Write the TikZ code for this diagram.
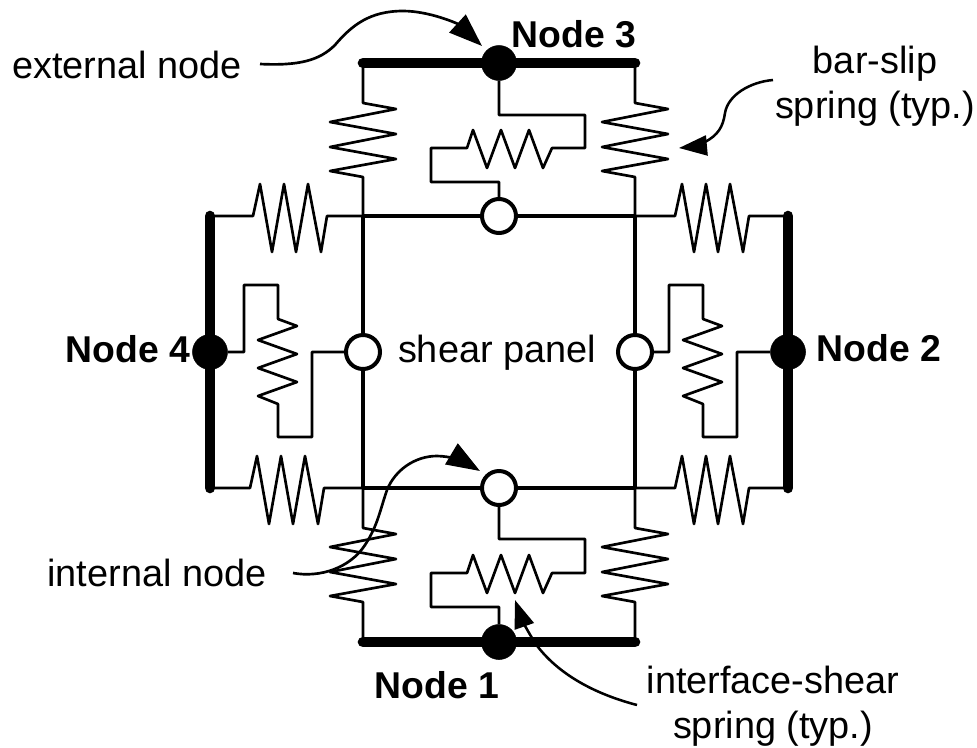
\documentclass[tikz,border=0pt]{standalone}
\usepackage{fontspec}
\setmainfont{Liberation Sans}
\usetikzlibrary{arrows.meta}
\tikzset{%
	ext/.style={draw, circle, fill=black, minimum size=35pt*0.75, inner sep=0pt},
	int/.style={draw, circle, fill=white, line width=3pt, minimum size=34pt*0.75, inner sep=0pt},
	bar/.style={line width=8pt, line cap=round},
	panel/.style={line width=2.6pt},
	wire/.style={line width=2pt, line join=round},
	lead/.style={line width=2pt, -{Triangle[length=25pt, width=18pt]}},
	leadsm/.style={line width=1.9pt, -{Triangle[length=21pt, width=15pt]}},
	lbl/.style={font=\fontsize{28.4}{34}\selectfont, align=center, inner sep=0pt},
	nlbl/.style={font=\fontsize{28}{34}\selectfont\bfseries, inner sep=0pt}}
% spring zigzags, written as relative steps
\newcommand{\vzig}{-- ++(33,6) -- ++(-66,13) -- ++(66,12) -- ++(-66,13) -- ++(66,12) -- ++(-66,12) -- ++(33,6)}
\newcommand{\hzig}{-- ++(7,-32) -- ++(12,68) -- ++(12,-68) -- ++(12,68) -- ++(12,-68) -- ++(13,68) -- ++(6,-36)}
\newcommand{\szig}{-- ++(-9,20) -- ++(-14,-38) -- ++(-14,38) -- ++(-14,-38) -- ++(-14,38) -- ++(-14,-38) -- ++(-6,18)}
\newcommand{\mzig}{-- ++(19,7) -- ++(-39,14) -- ++(39,14) -- ++(-39,14) -- ++(39,14) -- ++(-39,14) -- ++(20,8)}
\begin{document}
\begin{tikzpicture}[x=0.75pt, y=-0.75pt]
	\useasboundingbox (0,0) rectangle (977,747);

	\node[ext] (N3) at (499,63) {};
	\node[ext] (N1) at (499,642) {};
	\node[ext] (N4) at (210,352) {};
	\node[ext] (N2) at (788,352) {};
	\node[int] (I3) at (499,216) {};
	\node[int] (I1) at (499,488) {};
	\node[int] (I4) at (363,352) {};
	\node[int] (I2) at (635,352) {};

	\coordinate (B3l) at (363,63);
	\coordinate (B3r) at (635,63);
	\coordinate (B1l) at (363,642);
	\coordinate (B1r) at (635,642);
	\coordinate (B4t) at (210,216);
	\coordinate (B4b) at (210,488);
	\coordinate (B2t) at (788,216);
	\coordinate (B2b) at (788,488);
	\coordinate (P3l) at (363,216);
	\coordinate (P3r) at (635,216);
	\coordinate (P1l) at (363,488);
	\coordinate (P1r) at (635,488);

	% rigid bars
	\draw[bar] (B3l) -- (N3) -- (B3r);
	\draw[bar] (B1l) -- (N1) -- (B1r);
	\draw[bar] (B4t) -- (N4) -- (B4b);
	\draw[bar] (B2t) -- (N2) -- (B2b);

	% shear panel
	\draw[panel] (P3l) -- (I3);
	\draw[panel] (I3) -- (P3r);
	\draw[panel] (P1l) -- (I1);
	\draw[panel] (I1) -- (P1r);
	\draw[panel] (P3l) -- (I4);
	\draw[panel] (I4) -- (P1l);
	\draw[panel] (P3r) -- (I2);
	\draw[panel] (I2) -- (P1r);

	% bar-slip springs
	\draw[wire] (B3l) -- ++(0,40) \vzig -- (P3l);
	\draw[wire] (B3r) -- ++(0,40) \vzig -- (P3r);
	\draw[wire] (P1l) -- ++(0,40) \vzig -- (B1l);
	\draw[wire] (P1r) -- ++(0,40) \vzig -- (B1r);
	\draw[wire] (B4t) -- ++(43,0) \hzig -- (P3l);
	\draw[wire] (B4b) -- ++(40,0) \hzig -- (P1l);
	\draw[wire] (P3r) -- ++(40,0) \hzig -- (B2t);
	\draw[wire] (P1r) -- ++(40,0) \hzig -- (B2b);

	% interface-shear springs
	\draw[wire] (N3) -- (499,115) -- (585,115) -- (585,148) -- (552,148) \szig -- (431,148) -- (431,182) -- (499,182) -- (I3);
	\draw[wire] (I1) -- (499,539) -- (585,539) -- (585,573) -- (552,573) \szig -- (431,573) -- (431,607) -- (499,607) -- (N1);
	\draw[wire] (N4) -- (244,352) -- (244,285) -- (278,285) -- (278,319) \mzig -- (278,437) -- (312,437) -- (312,352) -- (I4);
	\draw[wire] (I2) -- (669,352) -- (669,285) -- (703,285) -- (703,319) \mzig -- (703,437) -- (737,437) -- (737,352) -- (N2);

	% labels
	\node[lbl] (Lext) at (127,65) {external node};
	\node[lbl] (Lint) at (157,573) {internal node};
	\node[lbl] (Lsh) at (497,353) {shear panel};
	\node[lbl] (Lbs) at (875,86) {bar-slip\\spring (typ.)};
	\node[lbl] (Lis) at (773,706) {interface-shear\\spring (typ.)};
	\node[nlbl] (T3) at (574,34) {Node 3};
	\node[nlbl] (T4) at (128,349) {Node 4};
	\node[nlbl] (T2) at (879,348) {Node 2};
	\node[nlbl] (T1) at (437,685) {Node 1};

	% leaders
	\coordinate (Sext) at (260,64);
	\coordinate (Sint) at (293,573);
	\coordinate (Sbs) at (773,80);
	\coordinate (Sis) at (637,705);
	\coordinate (Text) at (482,46);
	\coordinate (Tint) at (480,471);
	\coordinate (Tbs) at (679,148);
	\coordinate (Tis) at (515,600);
	\draw[lead] (Sext) .. controls (300,66) and (320,60) .. (335,45) .. controls (352,25) and (370,11) .. (403,11) .. controls (430,11) and (458,24) .. (Text);
	\draw[lead] (Sint) .. controls (320,578) and (350,568) .. (365,545) .. controls (378,525) and (380,510) .. (387,490) .. controls (395,470) and (415,456) .. (437,456) .. controls (450,456) and (465,462) .. (Tint);
	\draw[leadsm] (Sbs) .. controls (750,82) and (728,95) .. (725,113) .. controls (723,127) and (718,135) .. (705,142) .. controls (698,146) and (690,147) .. (Tbs);
	\draw[leadsm] (Sis) .. controls (595,694) and (560,675) .. (538,647) .. controls (528,633) and (521,617) .. (Tis);
\end{tikzpicture}
\end{document}
